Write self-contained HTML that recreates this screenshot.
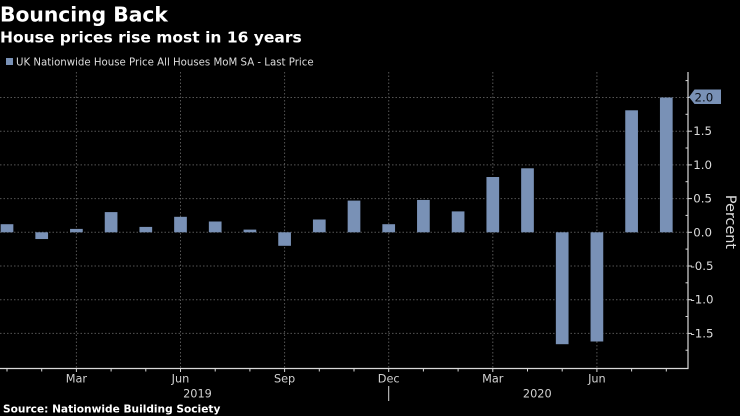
<!DOCTYPE html>
<html>
<head>
<meta charset="utf-8">
<style>
  html, body { margin: 0; padding: 0; background: #000; }
  body { width: 740px; height: 416px; overflow: hidden; }
  svg { display: block; }
  text { font-family: "DejaVu Sans", "Liberation Sans", sans-serif; }
</style>
</head>
<body>
<svg width="740" height="416" viewBox="0 0 740 416" xmlns="http://www.w3.org/2000/svg">
  <rect x="0" y="0" width="740" height="416" fill="#000"/>

  <!-- Titles -->
  <text x="0" y="21.7" font-size="20.3" font-weight="bold" fill="#fff">Bouncing Back</text>
  <text x="0" y="42.3" font-size="15.5" font-weight="bold" fill="#fff">House prices rise most in 16 years</text>

  <!-- Legend -->
  <rect x="6" y="58" width="7" height="7" fill="#7991b6"/>
  <text x="16" y="65.7" font-size="10.2" fill="#ddd">UK Nationwide House Price All Houses MoM SA - Last Price</text>

  <!-- Horizontal gridlines -->
  <g stroke="#555" stroke-width="1" stroke-dasharray="1.5,2">
    <line x1="0" y1="97.5" x2="688" y2="97.5"/>
    <line x1="0" y1="131.2" x2="688" y2="131.2"/>
    <line x1="0" y1="164.9" x2="688" y2="164.9"/>
    <line x1="0" y1="198.6" x2="688" y2="198.6"/>
    <line x1="0" y1="232.3" x2="688" y2="232.3"/>
    <line x1="0" y1="266.0" x2="688" y2="266.0"/>
    <line x1="0" y1="299.7" x2="688" y2="299.7"/>
    <line x1="0" y1="333.4" x2="688" y2="333.4"/>
  </g>
  <!-- Vertical gridlines -->
  <g stroke="#555" stroke-width="1" stroke-dasharray="1.5,2">
    <line x1="76.4" y1="72" x2="76.4" y2="368"/>
    <line x1="180.5" y1="72" x2="180.5" y2="368"/>
    <line x1="284.6" y1="72" x2="284.6" y2="368"/>
    <line x1="388.7" y1="72" x2="388.7" y2="368"/>
    <line x1="492.8" y1="72" x2="492.8" y2="368"/>
    <line x1="596.9" y1="72" x2="596.9" y2="368"/>
  </g>

  <!-- Bars -->
  <g fill="#7991b6">
    <rect x="0.65" y="224.2" width="12.7" height="8.1"/>
    <rect x="35.35" y="232.3" width="12.7" height="6.74"/>
    <rect x="70.05" y="228.9" width="12.7" height="3.4"/>
    <rect x="104.75" y="212.1" width="12.7" height="20.2"/>
    <rect x="139.45" y="226.9" width="12.7" height="5.4"/>
    <rect x="174.15" y="216.8" width="12.7" height="15.5"/>
    <rect x="208.85" y="221.5" width="12.7" height="10.8"/>
    <rect x="243.55" y="229.6" width="12.7" height="2.7"/>
    <rect x="278.25" y="232.3" width="12.7" height="13.5"/>
    <rect x="312.95" y="219.5" width="12.7" height="12.8"/>
    <rect x="347.65" y="200.6" width="12.7" height="31.7"/>
    <rect x="382.35" y="224.2" width="12.7" height="8.1"/>
    <rect x="417.05" y="199.95" width="12.7" height="32.35"/>
    <rect x="451.75" y="211.4" width="12.7" height="20.9"/>
    <rect x="486.45" y="177.0" width="12.7" height="55.3"/>
    <rect x="521.15" y="168.3" width="12.7" height="64.0"/>
    <rect x="555.85" y="232.3" width="12.7" height="111.9"/>
    <rect x="590.55" y="232.3" width="12.7" height="109.2"/>
    <rect x="625.25" y="110.3" width="12.7" height="122.0"/>
    <rect x="659.95" y="97.5" width="12.7" height="134.8"/>
  </g>

  <!-- Axes -->
  <g stroke="#d8d8d8" stroke-width="1.2">
    <line x1="0" y1="368.5" x2="688.5" y2="368.5"/>
    <line x1="688" y1="72" x2="688" y2="369"/>
  </g>

  <!-- Y major ticks (right) -->
  <g stroke="#d8d8d8" stroke-width="1">
    <line x1="688" y1="97.5" x2="692" y2="97.5"/>
    <line x1="688" y1="131.2" x2="692" y2="131.2"/>
    <line x1="688" y1="164.9" x2="692" y2="164.9"/>
    <line x1="688" y1="198.6" x2="692" y2="198.6"/>
    <line x1="688" y1="232.3" x2="692" y2="232.3"/>
    <line x1="688" y1="266.0" x2="692" y2="266.0"/>
    <line x1="688" y1="299.7" x2="692" y2="299.7"/>
    <line x1="688" y1="333.4" x2="692" y2="333.4"/>
  </g>
  <!-- Y minor ticks (left) -->
  <g stroke="#d8d8d8" stroke-width="1">
    <line x1="685.5" y1="80.6" x2="688" y2="80.6"/>
    <line x1="685.5" y1="114.3" x2="688" y2="114.3"/>
    <line x1="685.5" y1="148.0" x2="688" y2="148.0"/>
    <line x1="685.5" y1="181.7" x2="688" y2="181.7"/>
    <line x1="685.5" y1="215.4" x2="688" y2="215.4"/>
    <line x1="685.5" y1="249.1" x2="688" y2="249.1"/>
    <line x1="685.5" y1="282.8" x2="688" y2="282.8"/>
    <line x1="685.5" y1="316.5" x2="688" y2="316.5"/>
    <line x1="685.5" y1="350.2" x2="688" y2="350.2"/>
  </g>

  <!-- Y labels -->
  <g font-size="11.8" fill="#dcdcdc" dominant-baseline="central">
    <text x="693.3" y="131.2">1.5</text>
    <text x="693.3" y="164.9">1.0</text>
    <text x="693.3" y="198.6">0.5</text>
    <text x="693.3" y="232.3">0.0</text>
    <text x="690.5" y="266.0">-0.5</text>
    <text x="690.5" y="299.7">-1.0</text>
    <text x="690.5" y="333.4">-1.5</text>
  </g>
  <!-- Last value flag -->
  <polygon points="689,97 694.5,89.5 721,89.5 721,104 694.5,104" fill="#7991b6"/>
  <text x="694.5" y="97.5" font-size="11.8" fill="#0a0f18" dominant-baseline="central">2.0</text>

  <!-- Percent axis title -->
  <text x="730" y="222" font-size="14.4" fill="#dcdcdc" text-anchor="middle" dominant-baseline="central" transform="rotate(90 730 222)">Percent</text>

  <!-- X ticks -->
  <g stroke="#d8d8d8" stroke-width="1">
    <line x1="7" y1="368.5" x2="7" y2="371.5"/>
    <line x1="41.7" y1="368.5" x2="41.7" y2="371.5"/>
    <line x1="76.4" y1="368.5" x2="76.4" y2="372"/>
    <line x1="111.1" y1="368.5" x2="111.1" y2="371.5"/>
    <line x1="145.8" y1="368.5" x2="145.8" y2="371.5"/>
    <line x1="180.5" y1="368.5" x2="180.5" y2="372"/>
    <line x1="215.2" y1="368.5" x2="215.2" y2="371.5"/>
    <line x1="249.9" y1="368.5" x2="249.9" y2="371.5"/>
    <line x1="284.6" y1="368.5" x2="284.6" y2="372"/>
    <line x1="319.3" y1="368.5" x2="319.3" y2="371.5"/>
    <line x1="354" y1="368.5" x2="354" y2="371.5"/>
    <line x1="388.7" y1="368.5" x2="388.7" y2="372"/>
    <line x1="423.4" y1="368.5" x2="423.4" y2="371.5"/>
    <line x1="458.1" y1="368.5" x2="458.1" y2="371.5"/>
    <line x1="492.8" y1="368.5" x2="492.8" y2="372"/>
    <line x1="527.5" y1="368.5" x2="527.5" y2="371.5"/>
    <line x1="562.2" y1="368.5" x2="562.2" y2="371.5"/>
    <line x1="596.9" y1="368.5" x2="596.9" y2="372"/>
    <line x1="631.6" y1="368.5" x2="631.6" y2="371.5"/>
    <line x1="666.3" y1="368.5" x2="666.3" y2="371.5"/>
    <!-- year separator -->
    <line x1="388.7" y1="386" x2="388.7" y2="401"/>
  </g>

  <!-- X labels -->
  <g font-size="11.3" fill="#d0d0d0" text-anchor="middle">
    <text x="76.4" y="382.7">Mar</text>
    <text x="180.5" y="382.7">Jun</text>
    <text x="284.6" y="382.7">Sep</text>
    <text x="388.7" y="382.7">Dec</text>
    <text x="492.8" y="382.7">Mar</text>
    <text x="596.9" y="382.7">Jun</text>
    <text x="197.5" y="397.3">2019</text>
    <text x="537.3" y="397.3">2020</text>
  </g>

  <!-- Source -->
  <text x="3" y="412.7" font-size="10.6" font-weight="bold" fill="#fff">Source: Nationwide Building Society</text>
</svg>
</body>
</html>
